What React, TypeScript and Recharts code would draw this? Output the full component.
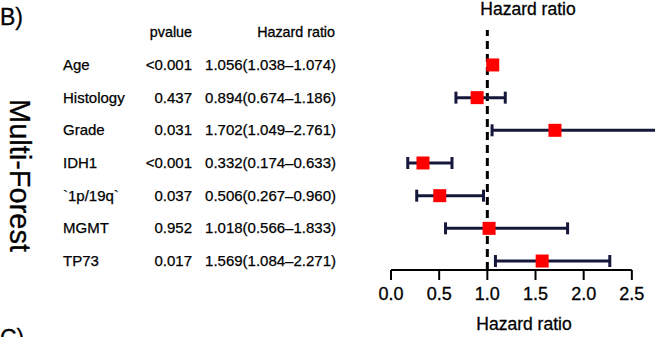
import React from "react";
import {
  ScatterChart,
  Scatter,
  XAxis,
  YAxis,
  ErrorBar,
  ReferenceLine,
} from "recharts";

// forest plot values (top row first)
const variables = ["Age", "Histology", "Grade", "IDH1", "`1p/19q`", "MGMT", "TP73"];
const pvalues = ["<0.001", "0.437", "0.031", "<0.001", "0.037", "0.952", "0.017"];
const hazardRatio = [1.056, 0.894, 1.702, 0.332, 0.506, 1.018, 1.569];
const lowerCI = [1.038, 0.674, 1.049, 0.174, 0.267, 0.566, 1.084];
const upperCI = [1.074, 1.186, 2.761, 0.633, 0.96, 1.833, 2.271];
const xTicks = [0, 0.5, 1, 1.5, 2, 2.5];

const FONT = "'Liberation Sans', Arial, Helvetica, sans-serif";
const BAR_COLOR = "#15183a";
const BOX = 13;

const rows = variables.map((name, i) => ({
  name,
  pvalue: pvalues[i],
  row: variables.length - i,
  hr: hazardRatio[i],
  err: [hazardRatio[i] - lowerCI[i], upperCI[i] - hazardRatio[i]],
  label: `${hazardRatio[i].toFixed(3)}(${lowerCI[i].toFixed(3)}–${upperCI[i].toFixed(3)})`,
}));

// y axis tick doubles as the table on the left
function TableRow(props: any) {
  const { y, payload, index } = props;
  const r = rows.find((d) => d.row === Number(payload?.value)) ?? rows[index];
  if (!r) return <g />;
  return (
    <g fontFamily={FONT} fontSize={15} fill="#000" stroke="#000" strokeWidth={0.25}>
      <text x={63} y={y + 5}>{r.name}</text>
      <text x={192} y={y + 5} textAnchor="end">{r.pvalue}</text>
      <text x={336} y={y + 5} textAnchor="end">{r.label}</text>
    </g>
  );
}

// red box for the point estimate
function Box(props: any) {
  const { cx, cy } = props;
  return <rect x={cx - BOX / 2} y={cy - BOX / 2} width={BOX} height={BOX} fill="#ff0000" />;
}

export default function App() {
  return (
    <div
      style={{
        position: "absolute",
        left: 0,
        top: 0,
        width: 655,
        height: 337,
        overflow: "hidden",
        background: "#fff",
      }}
    >
      <ScatterChart
        width={660}
        height={337}
        margin={{ top: 30, right: 3, bottom: 27, left: 381 }}
      >
        <XAxis
          type="number"
          dataKey="hr"
          domain={[0, 2.761]}
          ticks={xTicks}
          tickFormatter={(v: number) => v.toFixed(1)}
          axisLine={false}
          tickLine={{ stroke: "#000", strokeWidth: 2 }}
          tickSize={10}
          tickMargin={7}
          height={40}
          tick={{ fill: "#000", fontSize: 18, fontFamily: FONT, stroke: "#000", strokeWidth: 0.3 }}
        />
        <YAxis
          type="number"
          dataKey="row"
          domain={[0.725, 8.07]}
          ticks={rows.map((r) => r.row)}
          interval={0}
          width={10}
          axisLine={false}
          tickLine={false}
          tick={<TableRow />}
        />
        <ReferenceLine
          segment={[
            { x: 0, y: 0.725 },
            { x: 2.5, y: 0.725 },
          ]}
          stroke="#000"
          strokeWidth={2}
        />
        <ReferenceLine x={1} stroke="#000" strokeWidth={3} strokeDasharray="8 5" />
        <Scatter data={rows} fill="#ff0000" shape={<Box />} isAnimationActive={false}>
          <ErrorBar
            dataKey="err"
            direction="x"
            width={6}
            stroke={BAR_COLOR}
            strokeWidth={3}
          />
        </Scatter>
      </ScatterChart>
      <svg
        width={655}
        height={337}
        style={{ position: "absolute", left: 0, top: 0, pointerEvents: "none" }}
        fontFamily={FONT}
        stroke="#000"
        strokeWidth={0.3}
      >
        <text x={0} y={25} fontSize={23}>B)</text>
        <text x={0} y={346} fontSize={23}>C)</text>
        <text transform="translate(10,175.5) rotate(90)" textAnchor="middle" fontSize={29}>
          Multi-Forest
        </text>
        <text x={192} y={37} fontSize={14.3} textAnchor="end">pvalue</text>
        <text x={335} y={37} fontSize={14.3} textAnchor="end">Hazard ratio</text>
        <text x={528} y={15} fontSize={17.5} textAnchor="middle">Hazard ratio</text>
        <text x={524} y={330} fontSize={17.5} textAnchor="middle">Hazard ratio</text>
      </svg>
    </div>
  );
}
